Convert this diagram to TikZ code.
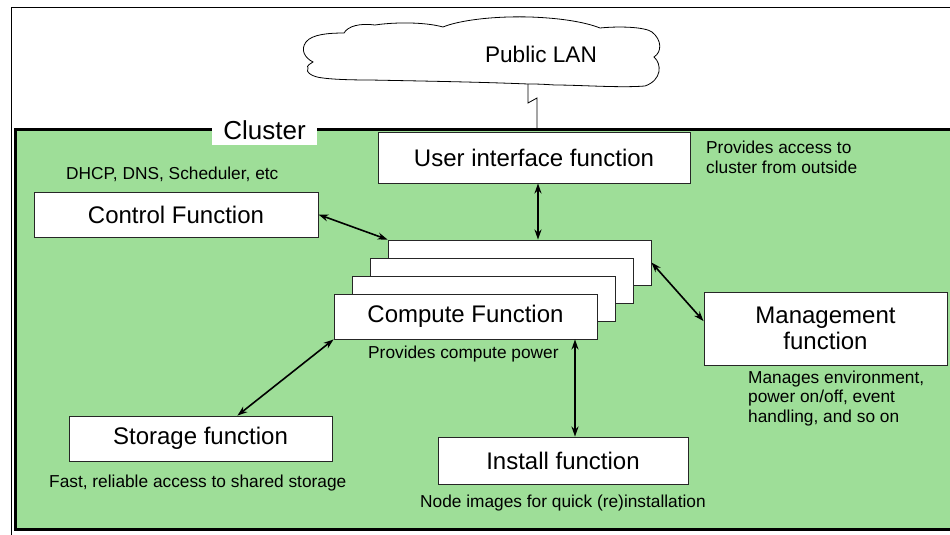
\documentclass[tikz,border=0pt]{standalone}
\usepackage{fontspec}
\setmainfont{Liberation Sans}
\usetikzlibrary{arrows.meta,calc}
\definecolor{clustergreen}{RGB}{158,222,152}
\begin{document}
\begin{tikzpicture}[x=1pt,y=-1pt,
  fbox/.style={draw=black!85,line width=0.9pt,fill=white,inner sep=0pt,
    font=\fontsize{24}{26}\selectfont,align=center},
  note/.style={inner sep=0pt,anchor=base west,align=left,
    font=\fontsize{17.3}{19.5}\selectfont},
  link/.style={line width=1.6pt,
    {Stealth[length=10pt,width=7pt]}-{Stealth[length=10pt,width=7pt]}},
  wire/.style={line width=0.8pt,draw=black},
]
\useasboundingbox (0,0) rectangle (950,535);
\begin{scope}
\clip (0,0) rectangle (950,535);

% outer frame
\draw[line width=1pt] (11,8) rectangle (970,560);

% cluster area
\draw[line width=3pt,fill=clustergreen] (15,129) rectangle (970,529);

% public LAN cloud
\draw[wire,fill=white]
  (306,42) .. controls (312,34) and (330,33) .. (344,33)
  .. controls (348,26) and (360,23) .. (375,25)
  .. controls (395,22) and (425,22) .. (443,27)
  .. controls (460,20) and (495,16) .. (530,17)
  .. controls (560,18) and (585,22) .. (600,28)
  .. controls (620,26) and (645,27) .. (652,32)
  .. controls (662,40) and (662,52) .. (654,57)
  .. controls (662,64) and (662,80) .. (645,86)
  .. controls (620,88) and (580,85) .. (555,85)
  .. controls (540,84) and (535,84) .. (528,84)
  .. controls (480,82) and (420,81) .. (370,80)
  .. controls (345,80) and (330,79) .. (323,78)
  .. controls (312,77) and (305,72) .. (308,68)
  .. controls (306,66) and (310,64) .. (313,62)
  .. controls (305,58) and (300,50) .. (306,42) -- cycle;
\node[inner sep=0pt,anchor=base,font=\fontsize{22.6}{24}\selectfont] (lan) at (541,63) {Public LAN};

% link from the LAN into the cluster
\coordinate (lanfoot) at (528,84);
\coordinate (clusterin) at (537,129);
\draw[wire] (lanfoot) -- (528,103) -- (537,98) -- (clusterin);

% cluster label
\node[fill=white,inner sep=0pt,minimum width=105,minimum height=29,
  font=\fontsize{26}{28}\selectfont] (clusterlabel) at (264.5,130.5) {Cluster};

% function boxes
\node[fbox,minimum width=312,minimum height=51] (ui) at (534,157.5) {User interface function};
\node[fbox,minimum width=284,minimum height=45] (control) at (176,214.5) {Control Function};
\node[fbox,minimum width=263,minimum height=45] (cb1) at (519.5,262.5) {};
\node[fbox,minimum width=263,minimum height=45] (cb2) at (501.5,280.5) {};
\node[fbox,minimum width=263,minimum height=45] (cb3) at (483.5,298.5) {};
\node[fbox,minimum width=263,minimum height=45] (compute) at (465.5,316.5) {Compute Function};
\node[fbox,minimum width=243,minimum height=73] (mgmt) at (825.5,328.5) {Management\\function};
\node[fbox,minimum width=263,minimum height=45] (storage) at (200.5,438.5) {Storage function};
\node[fbox,minimum width=250,minimum height=47] (install) at (563,460.5) {Install function};

% notes (base of a multi-line note is its last line)
\node[note] (uinote) at (706,173) {Provides access to\\cluster from outside};
\node[note] (ctlnote) at (66,179) {DHCP, DNS, Scheduler, etc};
\node[note] (cmpnote) at (368,358) {Provides compute power};
\node[note] (mgmtnote) at (748,422) {Manages environment,\\power on/off, event\\handling, and so on};
\node[note] (stornote) at (49,487) {Fast, reliable access to shared storage};
\node[note] (instnote) at (420,507) {Node images for quick (re)installation};

% connections
\coordinate (uiport) at ($(ui.south)+(4,0)$);
\coordinate (instport) at ($(install.north)+(12,0)$);
\draw[link] (uiport) -- (uiport |- cb1.north);
\draw[link] (control.east) -- (cb1.north west);
\draw[link] (cb1.east) -- ($(mgmt.north west)!0.4!(mgmt.south west)$);
\draw[link] (compute.south west) -- ($(storage.north west)!0.64!(storage.north east)$);
\draw[link] (instport |- compute.south) -- (instport);
\end{scope}
\end{tikzpicture}
\end{document}
